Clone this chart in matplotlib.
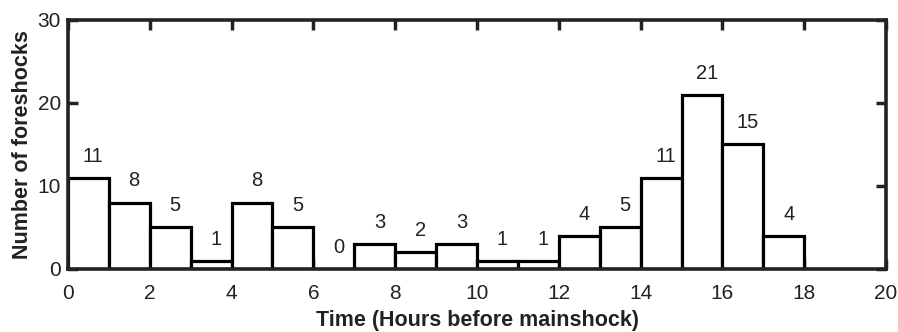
import matplotlib
matplotlib.use("Agg")
import matplotlib.pyplot as plt
import numpy as np

plt.rcParams['font.family'] = ['Liberation Sans', 'DejaVu Sans']

# Hourly foreshock counts, bins of one hour before the mainshock
bin_starts = list(range(0, 19))
counts = [11, 8, 5, 1, 8, 5, 0, 3, 2, 3, 1, 1, 4, 5, 11, 21, 15, 4, 0]
labelled_bins = 18
x_ticks = [0, 2, 4, 6, 8, 10, 12, 14, 16, 18, 20]
y_ticks = [0, 10, 20, 30]

fig = plt.figure(figsize=(8.98, 3.32), dpi=100)
ax = fig.add_axes([0.0757, 0.19, 0.911, 0.75])

ax.bar(bin_starts, counts, width=1.0, align='edge', facecolor='white',
       edgecolor='black', linewidth=2.3, zorder=2)

for left, c in zip(bin_starts[:labelled_bins], counts[:labelled_bins]):
    ax.text(left + 0.62, c + 2.6, str(c), ha='center', va='center',
            fontsize=14.5, color='#222222')

ax.set_xlim(0, 20)
ax.set_ylim(0, 30)
ax.set_xticks(x_ticks)
ax.set_yticks(y_ticks)
ax.tick_params(direction='in', length=7, width=2.5, top=True, right=True,
               labelsize=15, colors='#222222')
ax.tick_params(axis='x', pad=11)
ax.tick_params(axis='y', pad=5)
for s in ax.spines.values():
    s.set_linewidth(2.6)
    s.set_color('#222222')

ax.set_xlabel('Time (Hours before mainshock)', fontsize=15.5, fontweight='bold',
              labelpad=5, color='#222222')
ax.set_ylabel('Number of foreshocks', fontsize=15.5, fontweight='bold',
              labelpad=3, color='#222222')

fig.savefig('out.png', dpi=100)
